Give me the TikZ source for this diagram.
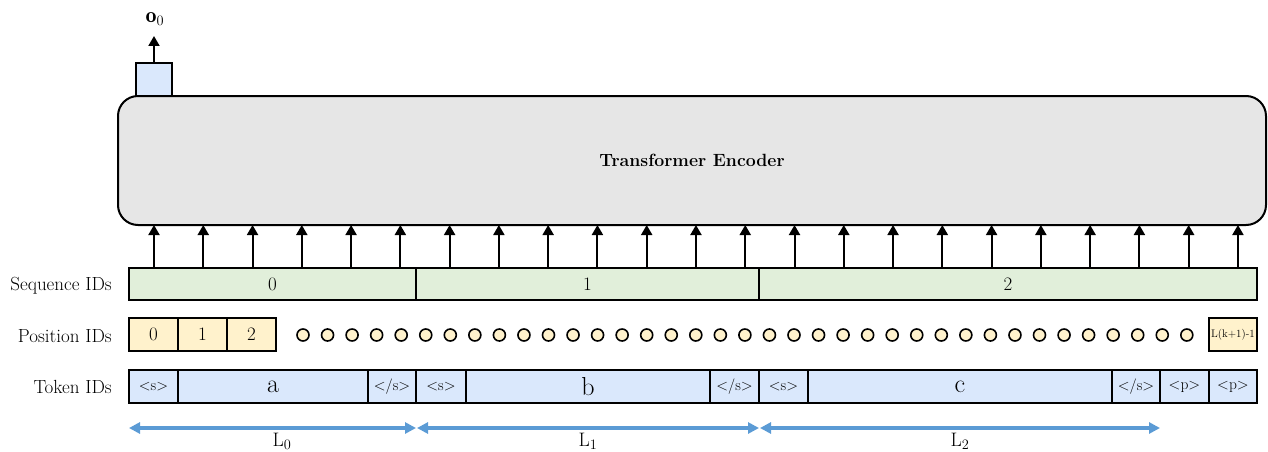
\documentclass[tikz,border=0pt]{standalone}
\usepackage{fontspec}
\usetikzlibrary{arrows.meta}
\definecolor{encgray}{HTML}{E6E6E6}
\definecolor{tokblue}{HTML}{DAE8FC}
\definecolor{seqgreen}{HTML}{E1EFDA}
\definecolor{posyellow}{HTML}{FFF2CC}
\definecolor{lenblue}{HTML}{5B9BD5}
\tikzset{
  cell/.style={draw=black, line width=1.8pt, anchor=north west, inner sep=0pt, outer sep=0pt,
    minimum height=33pt, font=\fontsize{19}{22}\selectfont},
  seqcell/.style={cell, fill=seqgreen, minimum height=32pt},
  poscell/.style={cell, fill=posyellow},
  tokcell/.style={cell, fill=tokblue, font=\fontsize{15.5}{18}\selectfont},
  bigtok/.style={tokcell, font=\fontsize{26}{28}\selectfont},
  rowlabel/.style={anchor=east, inner sep=0pt, font=\fontsize{19}{22}\selectfont},
  dotnode/.style={circle, draw=black, fill=posyellow, line width=1.6pt, minimum size=12pt, inner sep=0pt},
  uparrow/.style={line width=2pt, -{Triangle[width=11pt,length=10pt]}},
  lenarrow/.style={draw=lenblue, line width=3.5pt, {Triangle[width=11pt,length=11pt]}-{Triangle[width=11pt,length=11pt]}},
  lenlabel/.style={font=\fontsize{19.5}{22}\selectfont, inner sep=0pt}
}
\begin{document}
\begin{tikzpicture}[x=1pt,y=-1pt]
\useasboundingbox (0,0) rectangle (1268,452);
% encoder
\node[draw=black, line width=2pt, fill=encgray, rounded corners=20pt, anchor=north west,
  minimum width=1148pt, minimum height=129pt, inner sep=0pt, outer sep=0pt] (enc) at (118,96) {};
\node[font=\fontsize{17.7}{20}\selectfont\bfseries] (enclabel) at (692,160) {Transformer Encoder};
% output box
\node[draw=black, line width=1.8pt, fill=tokblue, anchor=south west, minimum width=36pt,
  minimum height=33pt, inner sep=0pt, outer sep=0pt] (out) at (136,96) {};
\node[font=\fontsize{22}{24}\selectfont, inner sep=0pt] (o0) at (155,19) {$\mathbf{o}_0$};
\coordinate (outtip) at (154,36);
\draw[uparrow] (out.north) -- (outtip);
% sequence ids
\node[seqcell, minimum width=287pt] (s0) at (129,268) {0};
\node[seqcell, minimum width=343pt] (s1) at (416,268) {1};
\node[seqcell, minimum width=498pt] (s2) at (759,268) {2};
\node[rowlabel] (lseq) at (112,286) {Sequence IDs};
% arrows into encoder
\foreach \i in {0,...,22} {
  \pgfmathsetmacro\xx{154+\i*49.27}
  \coordinate (in\i) at (\xx,268);
  \draw[uparrow] (in\i) -- (in\i |- enc.south);
}
% position ids
\node[poscell, minimum width=49pt] (p0) at (129,318) {0};
\node[poscell, minimum width=49pt] (p1) at (178,318) {1};
\node[poscell, minimum width=49pt] (p2) at (227,318) {2};
\node[poscell, minimum width=48pt, font=\fontsize{11}{12}\selectfont] (plast) at (1209,318) {L(k+1)-1};
\foreach \i in {0,...,36} {
  \node[dotnode] (d\i) at ({303+\i*24.55},335) {};
}
\node[rowlabel] (lpos) at (112,336) {Position IDs};
% token ids
\node[tokcell, minimum width=49pt] (t0) at (129,370) {<s>};
\node[bigtok, minimum width=190pt] (t1) at (178,370) {a};
\node[tokcell, minimum width=48pt] (t2) at (368,370) {</s>};
\node[tokcell, minimum width=50pt] (t3) at (416,370) {<s>};
\node[bigtok, minimum width=244pt] (t4) at (466,370) {b};
\node[tokcell, minimum width=49pt] (t5) at (710,370) {</s>};
\node[tokcell, minimum width=49pt] (t6) at (759,370) {<s>};
\node[bigtok, minimum width=304pt] (t7) at (808,370) {c};
\node[tokcell, minimum width=48pt] (t8) at (1112,370) {</s>};
\node[tokcell, minimum width=49pt] (t9) at (1160,370) {<p>};
\node[tokcell, minimum width=48pt] (t10) at (1209,370) {<p>};
\node[rowlabel] (ltok) at (112,387) {Token IDs};
% length arrows
\coordinate (b0) at (129,428);
\coordinate (b1) at (416,428);
\coordinate (b1r) at (417,428);
\coordinate (b2) at (759,428);
\coordinate (b2r) at (760,428);
\coordinate (b3) at (1160,428);
\draw[lenarrow] (b0) -- (b1);
\draw[lenarrow] (b1r) -- (b2);
\draw[lenarrow] (b2r) -- (b3);
\node[lenlabel] (l0) at (282,441) {L$_0$};
\node[lenlabel] (l1) at (588,441) {L$_1$};
\node[lenlabel] (l2) at (960,441) {L$_2$};
\end{tikzpicture}
\end{document}
